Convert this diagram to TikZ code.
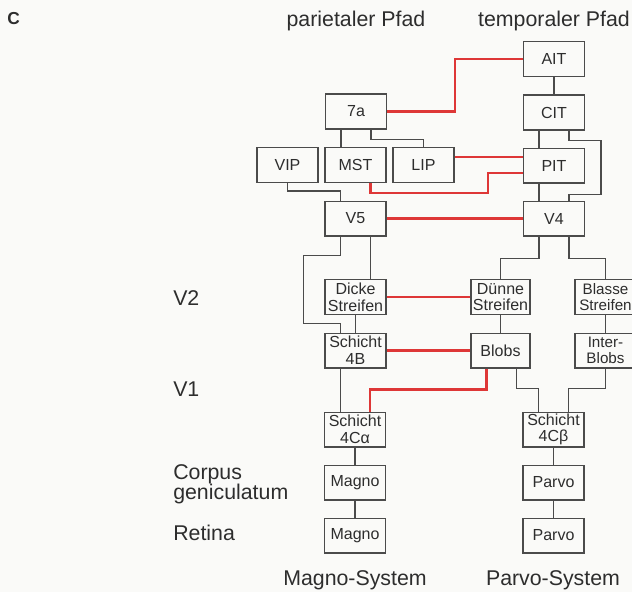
\documentclass[tikz,border=0pt]{standalone}
\usepackage{fontspec}
\setmainfont{Liberation Sans}
\usetikzlibrary{calc}
\definecolor{boxline}{RGB}{75,75,75}
\definecolor{txt}{RGB}{45,45,45}
\definecolor{redline}{RGB}{222,55,55}
\definecolor{bg}{RGB}{250,250,248}
\begin{document}
\begin{tikzpicture}[x=0.75pt,y=-0.75pt,
  box/.style={draw=boxline, line width=1pt, minimum width=45.75pt, minimum height=26pt, inner sep=0pt, align=center, text=txt, font=\fontsize{12}{12.5}\selectfont},
  edgebox/.style={box, font=\fontsize{11.4}{12.5}\selectfont},
  conn/.style={draw=boxline, line width=1pt},
  redc/.style={draw=redline, line width=2pt},
  lab/.style={text=txt, font=\fontsize{16}{15}\selectfont, inner sep=0pt}]
\useasboundingbox (0,0) rectangle (632,592);
\clip (0,0) rectangle (632,592);
\fill[bg] (0,0) rectangle (632,592);

% labels
\node[text=txt, font=\bfseries\fontsize{13}{15}\selectfont, anchor=base west, inner sep=0pt] (lC) at (7,25) {C};
\node[lab, anchor=base] (lpar) at (356,27) {parietaler Pfad};
\node[lab, anchor=base] (ltem) at (554,27) {temporaler Pfad};
\node[lab, anchor=base west] (lV2) at (173,305) {V2};
\node[lab, anchor=base west] (lV1) at (173,396) {V1};
\node[lab, anchor=base west, align=left] (lCG) at (173,499) {Corpus\\geniculatum};
\node[lab, anchor=base west] (lRet) at (173,540) {Retina};
\node[lab, anchor=base] (lMag) at (355,585) {Magno-System};
\node[lab, anchor=base] (lPar) at (553,585) {Parvo-System};

% boxes
\node[box] (AIT) at (554,59) {AIT};
\node[box] (CIT) at (554,112.5) {CIT};
\node[box] (S7a) at (356,111.5) {7a};
\node[box] (VIP) at (287.5,165) {VIP};
\node[box] (MST) at (355.5,165) {MST};
\node[box] (LIP) at (423.5,165) {LIP};
\node[box] (PIT) at (554,165.5) {PIT};
\node[box] (V5) at (355.5,218.5) {V5};
\node[box] (V4) at (554,218.5) {V4};
\node[box] (Dicke) at (355.5,297) {Dicke\\Streifen};
\node[box, minimum width=44.25pt] (Duenne) at (500.5,297) {Dünne\\Streifen};
\node[edgebox] (Blasse) at (605.5,297) {Blasse\\Streifen};
\node[box] (S4B) at (355.5,350.5) {Schicht\\4B};
\node[box, minimum width=44.25pt] (Blobs) at (500.5,350.5) {Blobs};
\node[edgebox] (Inter) at (605.5,350.5) {Inter-\\Blobs};
\node[box] (S4Ca) at (355,429.5) {Schicht\\4Cα};
\node[box] (S4Cb) at (553.5,429.5) {Schicht\\4Cβ};
\node[box] (MagnoCG) at (355,482.5) {Magno};
\node[box] (MagnoR) at (355,535.5) {Magno};
\node[box] (ParvoCG) at (553.5,482.5) {Parvo};
\node[box] (ParvoR) at (553.5,535.5) {Parvo};

% black connectors
\draw[conn] (AIT) -- (CIT);
\draw[conn] ($(CIT.south)+(-15,0)$) coordinate (c1) -- (c1 |- PIT.north);
\draw[conn] ($(CIT.south)+(15,0)$) -- ++(0,10) -- ++(32,0) -- ++(0,54) -- ++(-32,0) coordinate (c2) -- (c2 |- V4.north);
\draw[conn] ($(PIT.south)+(-15,0)$) coordinate (c3) -- (c3 |- V4.north);
\draw[conn] ($(S7a.south)+(-15,0)$) coordinate (p1) -- (p1 |- MST.north);
\draw[conn] ($(S7a.south)+(15,0)$) -- ++(0,10) -| (LIP.north);
\draw[conn] (VIP.south) -- ++(0,8) -| ($(V5.north)+(-15,0)$);
\draw[conn] ($(V5.south)+(15,0)$) coordinate (p2) -- (p2 |- Dicke.north);
\draw[conn] ($(V5.south)+(-15,0)$) -- ++(0,19) -- ++(-37,0) -- ++(0,68) -- ++(37,0) coordinate (p3) -- (p3 |- S4B.north);
\draw[conn] (Dicke) -- (S4B);
\draw[conn] ($(S4B.south)+(-15,0)$) coordinate (p4) -- (p4 |- S4Ca.north);
\draw[conn] ($(V4.south)+(-15,0)$) -- ++(0,22) -| (Duenne.north);
\draw[conn] ($(V4.south)+(15,0)$) -- ++(0,22) -| (Blasse.north);
\draw[conn] (Duenne) -- (Blobs);
\draw[conn] (Blasse) -- (Inter);
\draw[conn] ($(Blobs.south)+(16,0)$) -- ++(0,20) -| ($(S4Cb.north)+(-15,0)$);
\draw[conn] (Inter.south) -- ++(0,20) -| ($(S4Cb.north)+(15,0)$);
\draw[conn] (S4Ca) -- (MagnoCG);
\draw[conn] (MagnoCG) -- (MagnoR);
\draw[conn] (S4Cb) -- (ParvoCG);
\draw[conn] (ParvoCG) -- (ParvoR);

% red connectors
\draw[redc] (S7a.east) -| ($(AIT.west)+(-68,0)$) -- (AIT.west);
\draw[redc] ($(LIP.east)+(0,-8)$) coordinate (r1) -- (r1 -| PIT.west);
\draw[redc] ($(MST.south)+(15,0)$) -- ++(0,10) -| ($(PIT.west)+(-35,7.5)$) -- ($(PIT.west)+(0,7.5)$);
\draw[redc] (V5) -- (V4);
\draw[redc] (Dicke) -- (Duenne);
\draw[redc] (S4B) -- (Blobs);
\draw[redc] ($(Blobs.south)+(-14,0)$) -- ++(0,21) -| ($(S4Ca.north)+(15,0)$);
\end{tikzpicture}
\end{document}
